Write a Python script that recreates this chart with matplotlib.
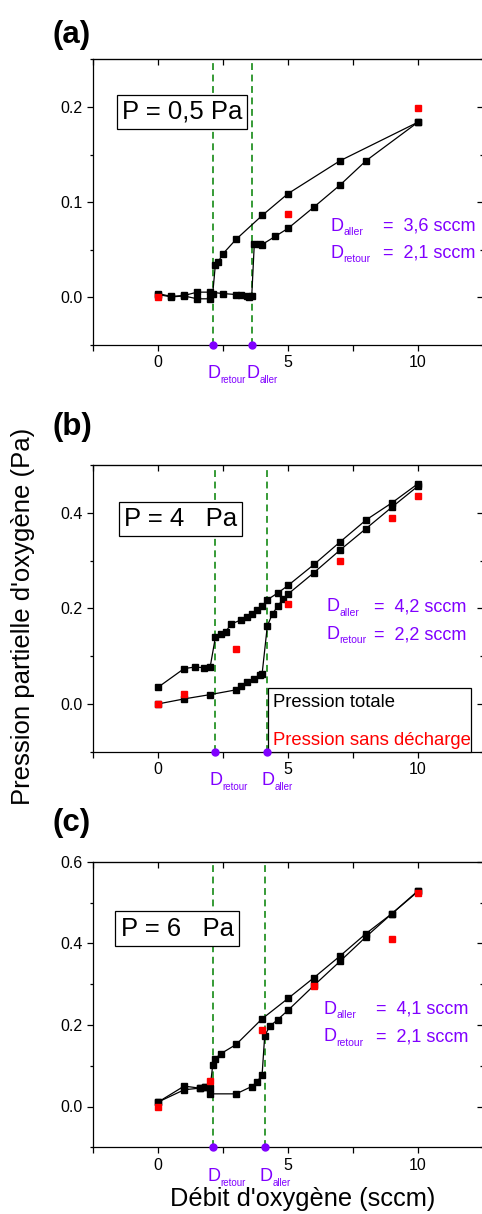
import matplotlib.pyplot as plt
from matplotlib.ticker import MultipleLocator, FormatStrFormatter
from matplotlib.patches import Rectangle

plt.rcParams['font.family'] = ['Liberation Sans', 'DejaVu Sans']

# === DATA ===
# (a) P = 0,5 Pa
a_aller_x = [0, 0.5, 1, 1.5, 2, 2.5, 3, 3.2, 3.4, 3.5, 3.6, 3.7, 3.9, 4, 4.5, 5, 6, 7, 8, 10]
a_aller_y = [0.004, 0.001, 0.002, 0.0055, 0.0055, 0.004, 0.003, 0.003, 0.001, 0.0, 0.001,
             0.0565, 0.056, 0.0555, 0.064, 0.0725, 0.095, 0.118, 0.1435, 0.184]
a_retour_x = [10, 7, 5, 4, 3, 2.5, 2.3, 2.2, 2.1, 2, 1.5, 1, 0.5, 0]
a_retour_y = [0.184, 0.1435, 0.109, 0.086, 0.061, 0.046, 0.037, 0.034, 0.004,
              -0.0015, -0.0015, 0.0015, 0.0005, 0.003]
a_ref_x = [0, 5, 10]
a_ref_y = [0.0, 0.0875, 0.199]

# (b) P = 4 Pa
b_aller_x = [0, 1, 2, 3, 3.2, 3.4, 3.7, 3.9, 4.0, 4.2, 4.4, 4.6, 4.8, 5, 6, 7, 8, 9, 10]
b_aller_y = [0.0, 0.0105, 0.0195, 0.0295, 0.0385, 0.0455, 0.053, 0.061, 0.063, 0.163,
             0.189, 0.204, 0.22, 0.23, 0.275, 0.322, 0.367, 0.412, 0.456]
b_retour_x = [10, 9, 8, 7, 6, 5, 4.6, 4.2, 4.0, 3.8, 3.6, 3.4, 3.2, 2.8, 2.6, 2.4, 2.2,
              2.0, 1.75, 1.4, 1.0, 0]
b_retour_y = [0.461, 0.421, 0.385, 0.339, 0.292, 0.248, 0.232, 0.218, 0.204, 0.196, 0.189,
              0.182, 0.176, 0.167, 0.151, 0.146, 0.139, 0.077, 0.076, 0.077, 0.074, 0.035]
b_ref_x = [0, 1, 3, 5, 7, 9, 10]
b_ref_y = [0.0, 0.021, 0.114, 0.21, 0.30, 0.39, 0.435]

# (c) P = 6 Pa
c_aller_x = [0, 1, 1.6, 1.8, 2.0, 3.0, 3.6, 3.8, 4.0, 4.1, 4.3, 4.6, 5, 6, 7, 8, 9, 10]
c_aller_y = [0.011, 0.041, 0.045, 0.049, 0.031, 0.031, 0.049, 0.060, 0.078, 0.174, 0.197,
             0.213, 0.236, 0.297, 0.356, 0.416, 0.473, 0.527]
c_retour_x = [10, 9, 8, 7, 6, 5, 4, 3, 2.4, 2.2, 2.1, 2.0, 1.8, 1.6, 1.0, 0]
c_retour_y = [0.529, 0.473, 0.424, 0.369, 0.316, 0.265, 0.215, 0.152, 0.129, 0.117, 0.102,
              0.046, 0.049, 0.045, 0.050, 0.011]
c_ref_x = [0, 2, 4, 6, 9, 10]
c_ref_y = [0.0, 0.062, 0.187, 0.296, 0.41, 0.524]

d_aller = [3.6, 4.2, 4.1]
d_retour = [2.1, 2.2, 2.1]
pressure_labels = ['P = 0,5 Pa', 'P = 4   Pa', 'P = 6   Pa']
panel_labels = ['(a)', '(b)', '(c)']

purple = '#8000ff'
green = '#008000'

fig = plt.figure(figsize=(4.82, 12.14), dpi=100, facecolor='white')
W, H = 482.0, 1214.0

# axes boxes in pixels: (top, bottom)
boxes = [(59.3, 345.0), (465.0, 751.7), (861.7, 1147.3)]
ylims = [(-0.05, 0.25), (-0.1, 0.5), (-0.1, 0.6)]
ymajor = [0.1, 0.2, 0.2]
yminor = [0.05, 0.1, 0.1]
# text placement (data coords)
box_pos = [(0.92, 0.195), (0.85, 0.387), (0.73, 0.436)]
ann_x = [(6.63, 8.64), (6.47, 8.29), (6.36, 8.37)]
ann_y = [(0.070, 0.0415), (0.1935, 0.1358), (0.2278, 0.1604)]
label_y = [35, 427, 823]

all_data = [
    (a_aller_x, a_aller_y, a_retour_x, a_retour_y, a_ref_x, a_ref_y),
    (b_aller_x, b_aller_y, b_retour_x, b_retour_y, b_ref_x, b_ref_y),
    (c_aller_x, c_aller_y, c_retour_x, c_retour_y, c_ref_x, c_ref_y),
]


def d_text(ax, x, y, sub, trans, size, subsize, drop, dx=0, dy=0):
    ax.annotate('D', xy=(x, y), xycoords=trans, xytext=(dx, dy), textcoords='offset points',
                ha='left', va='baseline', fontsize=size, color=purple, annotation_clip=False)
    ax.annotate(sub, xy=(x, y), xycoords=trans, xytext=(dx + 0.722 * size, dy - drop),
                textcoords='offset points', ha='left', va='baseline', fontsize=subsize,
                color=purple, annotation_clip=False)


for i in range(3):
    top, bot = boxes[i]
    left_px, right_px = 93.2, 483.0
    ax = fig.add_axes([left_px / W, 1 - bot / H, (right_px - left_px) / W, (bot - top) / H])
    ax.set_xlim(-2.5, 12.5)
    ax.set_ylim(*ylims[i])

    ax_x, ax_y, re_x, re_y, rf_x, rf_y = all_data[i]

    # === VERTICAL D LINES ===
    for d in (d_retour[i], d_aller[i]):
        ax.axvline(d, color=green, lw=1.1, ls=(0, (4.5, 3)), zorder=1)

    # === SERIES ===
    ax.plot(ax_x, ax_y, '-s', color='black', lw=0.9, ms=5, zorder=3)
    ax.plot(re_x, re_y, '-s', color='black', lw=0.9, ms=5, zorder=3)
    ax.plot(rf_x, rf_y, 's', color='red', ms=5, lw=0, zorder=4)

    # purple markers on x axis
    ax.plot([d_retour[i], d_aller[i]], [ylims[i][0]] * 2, 'o', color=purple, ms=5,
            clip_on=False, zorder=10)

    # === TICKS ===
    ax.xaxis.set_major_locator(MultipleLocator(5))
    ax.xaxis.set_minor_locator(MultipleLocator(2.5))
    ax.yaxis.set_major_locator(MultipleLocator(ymajor[i]))
    ax.yaxis.set_minor_locator(MultipleLocator(yminor[i]))
    ax.yaxis.set_major_formatter(FormatStrFormatter('%.1f'))
    ax.tick_params(axis='both', which='both', labelsize=11.5, width=0.9)
    ax.tick_params(axis='x', which='both', direction='out', length=4, top=False)
    ax.tick_params(axis='y', which='major', direction='out', length=4, right=False)
    ax.tick_params(axis='y', which='minor', direction='out', length=2, right=False)
    for sp in ax.spines.values():
        sp.set_linewidth(0.9)

    # top / right ticks point inward
    sec_x = ax.secondary_xaxis('top')
    sec_x.xaxis.set_major_locator(MultipleLocator(2.5))
    sec_x.tick_params(direction='in', length=4, width=0.9, labeltop=False)
    sec_y = ax.secondary_yaxis('right')
    sec_y.yaxis.set_major_locator(MultipleLocator(ymajor[i]))
    sec_y.yaxis.set_minor_locator(MultipleLocator(yminor[i]))
    sec_y.tick_params(which='major', direction='in', length=4, width=0.9, labelright=False)
    sec_y.tick_params(which='minor', direction='in', length=2, width=0.9)

    # === PRESSURE BOX ===
    ax.text(box_pos[i][0], box_pos[i][1], pressure_labels[i], fontsize=18.5,
            ha='center', va='center', zorder=6,
            bbox=dict(boxstyle='square,pad=0.2', fc='white', ec='black', lw=0.9))

    # === D ANNOTATIONS ===
    vals = [('aller', d_aller[i]), ('retour', d_retour[i])]
    for k, (name, v) in enumerate(vals):
        d_text(ax, ann_x[i][0], ann_y[i][k], name, 'data', 13, 7.5, 3.2)
        ax.text(ann_x[i][1], ann_y[i][k], '=  ' + ('%.1f' % v).replace('.', ',') + ' sccm',
                fontsize=13, color=purple, ha='left', va='baseline')

    # labels under x axis
    xt = ax.get_xaxis_transform()
    d_text(ax, d_retour[i], 0, 'retour', xt, 13, 7, 3.6, dx=-4, dy=-24)
    d_text(ax, d_aller[i], 0, 'aller', xt, 13, 7, 3.6, dx=-4, dy=-24)

    # panel label
    fig.text(53 / W, 1 - label_y[i] / H, panel_labels[i], fontsize=22.5, fontweight='bold',
             ha='left', va='center')

    # legend in (b)
    if i == 1:
        rect = Rectangle((4.23, -0.1), 12.03 - 4.23, 0.1323, fc='white', ec='black',
                         lw=0.9, zorder=7, clip_on=False)
        ax.add_patch(rect)
        ax.text(4.42, -0.0072, 'Pression totale', fontsize=13.3, color='black',
                ha='left', va='baseline', zorder=8)
        ax.text(4.42, -0.0866, 'Pression sans décharge', fontsize=13.3, color='red',
                ha='left', va='baseline', zorder=8)

# === AXIS TITLES ===
fig.text(23 / W, 1 - 616 / H, "Pression partielle d'oxygène (Pa)", rotation=90,
         fontsize=18.5, ha='center', va='center')
fig.text(302.5 / W, 1 - 1206 / H, "Débit d'oxygène (sccm)", fontsize=18.3,
         ha='center', va='baseline')

plt.savefig('out.png', dpi=100, facecolor='white')
